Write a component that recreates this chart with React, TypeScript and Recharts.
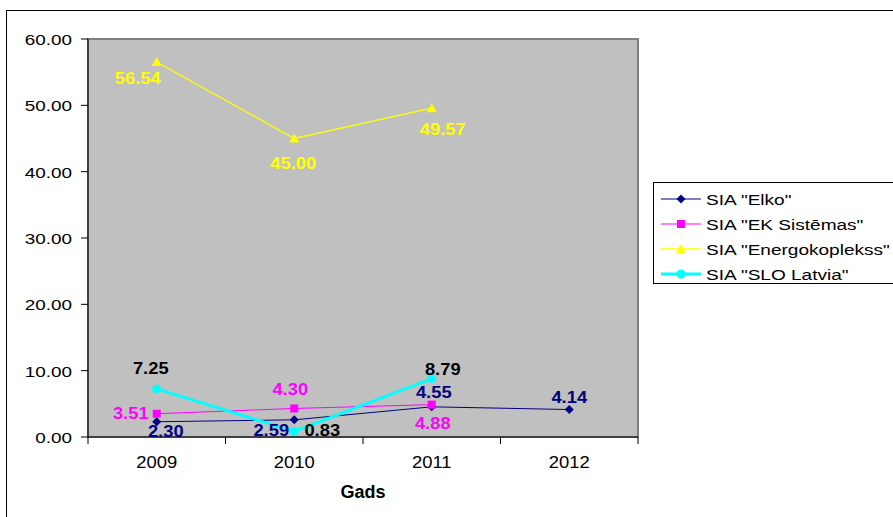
import { LineChart, Line, XAxis, YAxis, ReferenceArea, LabelList } from 'recharts';

const years = ['2009', '2010', '2011', '2012'];
const elko = [2.3, 2.59, 4.55, 4.14];
const ekSistemas = [3.51, 4.3, 4.88, null];
const energokoplekss = [56.54, 45.0, 49.57, null];
const sloLatvia = [7.25, 0.83, 8.79, null];
const yTicks = [0, 10, 20, 30, 40, 50, 60];

const rows = years.map((year, i) => ({
    year,
    elko: elko[i],
    ek: ekSistemas[i],
    energo: energokoplekss[i],
    slo: sloLatvia[i],
}));

const W = 893;
const H = 517;
const MARGIN = { top: 39, right: 255, bottom: 0, left: 0 };
const Y_AXIS_W = 88;
const X_AXIS_H = 80;
const PLOT_W = W - MARGIN.left - MARGIN.right - Y_AXIS_W;
const HALF_BAND = PLOT_W / years.length / 2;
const FONT = '"Liberation Sans", Arial, sans-serif';

type Kind = 'diamond' | 'square' | 'triangle' | 'circle';

// label offsets (dx, dy) from each point, like hand-placed Excel labels
const series: {
    key: string; name: string; color: string; labelColor: string;
    width: number; marker: Kind; offsets: number[][];
}[] = [
    { key: 'elko', name: 'SIA "Elko"', color: '#000080', labelColor: '#000080', width: 1, marker: 'diamond',
        offsets: [[9, 9], [-23, 10], [2, -15], [0, -13]] },
    { key: 'ek', name: 'SIA "EK Sistēmas"', color: '#FF00FF', labelColor: '#FF00FF', width: 1, marker: 'square',
        offsets: [[-26, -1], [-4, -19], [1, 18]] },
    { key: 'energo', name: 'SIA "Energokoplekss"', color: '#FFFF00', labelColor: '#FFFF00', width: 1.3, marker: 'triangle',
        offsets: [[-19, 16], [-1, 24], [11, 21]] },
    { key: 'slo', name: 'SIA "SLO Latvia"', color: '#00FFFF', labelColor: '#000000', width: 3, marker: 'circle',
        offsets: [[-6, -21], [28, -1], [11, -10]] },
];

function Marker({ kind, cx, cy, color }: { kind: Kind; cx: number; cy: number; color: string }) {
    if (kind === 'diamond')
        return <polygon points={`${cx},${cy - 4.5} ${cx + 4.5},${cy} ${cx},${cy + 4.5} ${cx - 4.5},${cy}`} fill={color} />;
    if (kind === 'square') return <rect x={cx - 4} y={cy - 4} width={8} height={8} fill={color} />;
    if (kind === 'triangle')
        return <polygon points={`${cx},${cy - 5} ${cx + 5},${cy + 4} ${cx - 5},${cy + 4}`} fill={color} />;
    return <circle cx={cx} cy={cy} r={4.5} fill={color} />;
}

// text squeezed/stretched horizontally the way the old chart renders it
function SText({ x, y, sx = 1, anchor = 'middle', children, ...rest }: any) {
    return (
        <text transform={`translate(${x} ${y}) scale(${sx} 1)`} textAnchor={anchor} fontFamily={FONT} {...rest}>
            {children}
        </text>
    );
}

function XTick({ x, y, payload, index }: any) {
    const last = index === years.length - 1;
    return (
        <g>
            <line x1={x - HALF_BAND} x2={x - HALF_BAND} y1={y} y2={y + 7} stroke="#000" />
            {last && <line x1={x + HALF_BAND} x2={x + HALF_BAND} y1={y} y2={y + 7} stroke="#000" />}
            <SText x={x} y={y + 31} sx={1.15} fontSize={16} fill="#000">{payload.value}</SText>
        </g>
    );
}

function YTick({ x, y, payload }: any) {
    return (
        <SText x={x - 1} y={y + 6} sx={1.35} anchor="end" fontSize={14} fill="#000">
            {Number(payload.value).toFixed(2)}
        </SText>
    );
}

function Legend() {
    return (
        <div style={{ position: 'absolute', left: 653, top: 182, width: 260, height: 100, border: '1.5px solid #000', background: '#fff' }}>
            <svg width={260} height={100}>
                {series.map((s, i) => {
                    const cy = 16 + i * 25;
                    return (
                        <g key={s.key}>
                            <line x1={7} x2={47} y1={cy} y2={cy} stroke={s.color} strokeWidth={s.width} />
                            <Marker kind={s.marker} cx={27} cy={cy} color={s.color} />
                            <SText x={52} y={cy + 5.5} sx={1.27} anchor="start" fontSize={15} fill="#000">{s.name}</SText>
                        </g>
                    );
                })}
            </svg>
        </div>
    );
}

export default function App() {
    return (
        <div style={{ position: 'absolute', left: 0, top: 0, width: W, height: H, overflow: 'hidden', background: '#fff' }}>
            {/* outer frame */}
            <div style={{ position: 'absolute', left: 6, top: 10, width: 1000, height: 1000, border: '1.5px solid #000' }} />
            <div style={{ position: 'absolute', left: 0, top: 0 }}>
                <LineChart width={W} height={H} data={rows} margin={MARGIN}>
                    <ReferenceArea y1={0} y2={60} fill="#C0C0C0" fillOpacity={1} stroke="#808080" strokeWidth={2} />
                    <XAxis
                        dataKey="year"
                        scale="band"
                        height={X_AXIS_H}
                        tickLine={false}
                        tickSize={0}
                        tickMargin={0}
                        axisLine={{ stroke: '#000' }}
                        tick={<XTick />}
                        interval={0}
                        label={{ value: 'Gads', position: 'insideTop', dy: 43, fontSize: 18, fontWeight: 'bold', fill: '#000', fontFamily: FONT }}
                    />
                    <YAxis
                        width={Y_AXIS_W}
                        domain={[0, 60]}
                        ticks={yTicks}
                        interval={0}
                        tickSize={7}
                        tickMargin={8}
                        tickLine={{ stroke: '#000' }}
                        axisLine={{ stroke: '#000' }}
                        tick={<YTick />}
                    />
                    {series.map((s) => (
                        <Line
                            key={s.key}
                            dataKey={s.key}
                            name={s.name}
                            stroke={s.color}
                            strokeWidth={s.width}
                            isAnimationActive={false}
                            dot={(p: any) =>
                                p.cy == null ? <g key={p.index} /> : (
                                    <g key={p.index}><Marker kind={s.marker} cx={p.cx} cy={p.cy} color={s.color} /></g>
                                )
                            }
                            activeDot={false}
                        >
                            <LabelList
                                dataKey={s.key}
                                content={(p: any) => {
                                    if (p.value == null) return null;
                                    const off = s.offsets[p.index] || [0, 0];
                                    const px = p.x ?? p.viewBox?.x;
                                    const py = p.y ?? p.viewBox?.y;
                                    return (
                                        <SText x={px + off[0]} y={py + off[1] + 6} sx={1.08} fontSize={17} fontWeight="bold" fill={s.labelColor}>
                                            {Number(p.value).toFixed(2)}
                                        </SText>
                                    );
                                }}
                            />
                        </Line>
                    ))}
                </LineChart>
            </div>
            <Legend />
        </div>
    );
}
